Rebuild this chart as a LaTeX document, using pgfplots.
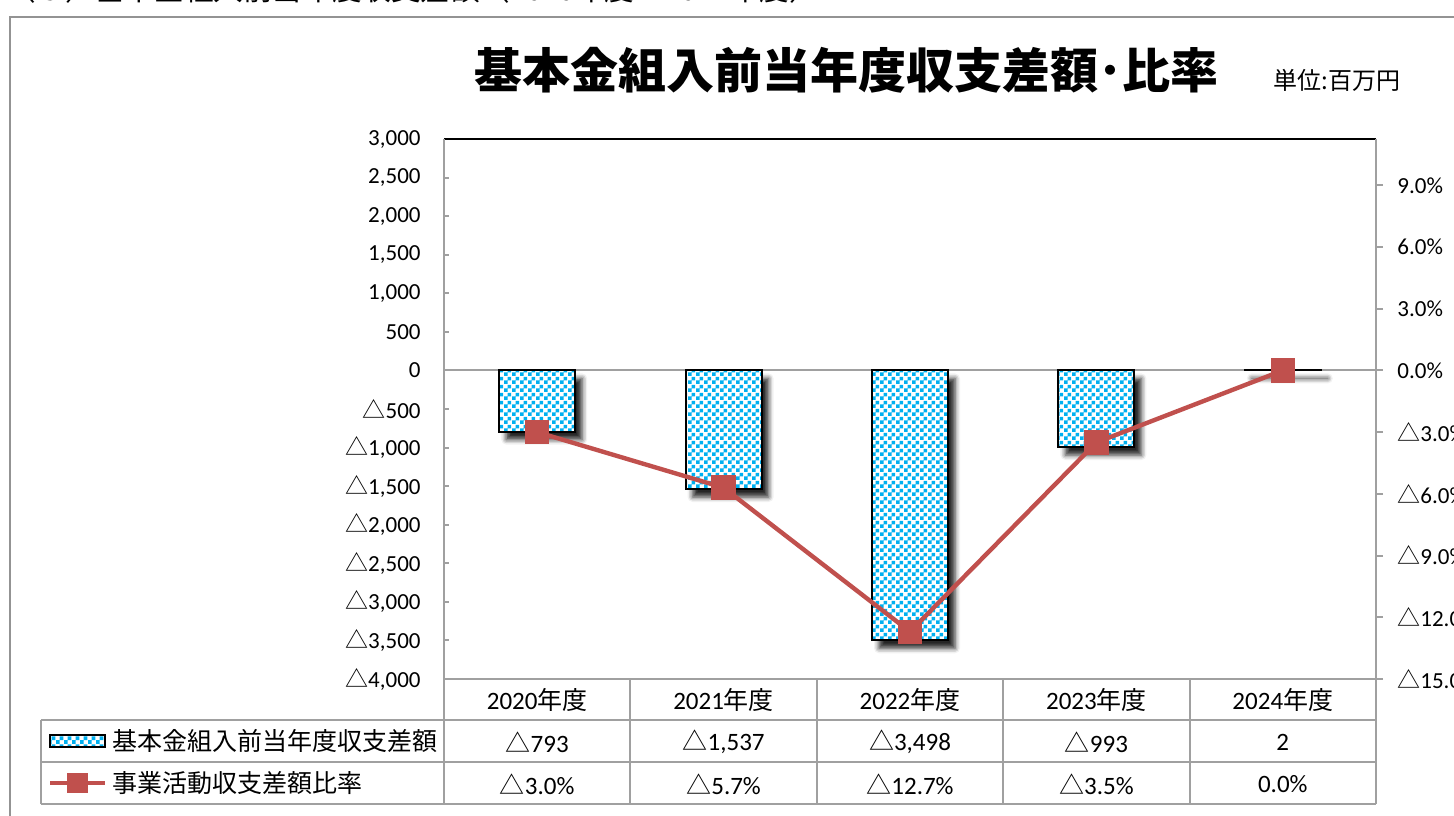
\documentclass[border=0pt]{standalone}
\usepackage{fontspec}
\setmainfont{Carlito}
\newfontfamily\cjk{Noto Sans CJK JP}
\usepackage{pgfplots}
\pgfplotsset{compat=1.18}
\usetikzlibrary{patterns,shadows,shadows.blur}
\definecolor{barblue}{HTML}{00B0F0}
\definecolor{lred}{HTML}{C0504D}
\definecolor{gline}{HTML}{A0A0A0}
\pgfdeclarepatternformonly{smallcheck}{\pgfqpoint{0pt}{0pt}}{\pgfqpoint{4pt}{4pt}}{\pgfqpoint{4pt}{4pt}}{%
  \pgfpathrectangle{\pgfqpoint{0pt}{0pt}}{\pgfqpoint{2.05pt}{2.05pt}}%
  \pgfpathrectangle{\pgfqpoint{2pt}{2pt}}{\pgfqpoint{2.05pt}{2.05pt}}%
  \pgfusepath{fill}}
\newcommand\tri{{\cjk △}}
\pgfplotsset{
  barlegend/.style={legend image code/.code={\draw[fill=white, draw=black, line width=1pt, postaction={pattern=smallcheck, pattern color=barblue}] (0pt,-3pt) rectangle (27.5pt,3pt);}},
  linelegend/.style={legend image code/.code={\draw[mark repeat=2,mark phase=2,##1, mark size=4pt] plot coordinates {(0pt,0pt) (13.75pt,0pt) (27.5pt,0pt)};}},
}
\begin{document}
\begin{tikzpicture}
\useasboundingbox (0,0) rectangle (727pt,-407.5pt);
\clip (0,0) rectangle (727pt,-407.5pt);
\begin{scope}[x=0.5pt,y=-0.5pt]
\node[anchor=base west, inner sep=0pt, font=\cjk\fontsize{14.8}{17}\selectfont] at (6,0.5) {（５）基本金組入前当年度収支差額（2020年度～2024年度）};
\draw[gray!85, line width=1pt] (10,17) rectangle (1490,840);
\node[font=\cjk\bfseries\fontsize{24}{28}\selectfont] at (846,70) {基本金組入前当年度収支差額･比率};
\node[font=\cjk\fontsize{12}{14}\selectfont] at (1337,80) {単位:百万円};
\end{scope}

\begin{axis}[
  at={(222pt,-339.5pt)}, anchor=south west,
  width=466pt, height=270pt, scale only axis,
  xmin=-0.5, xmax=4.5, ymin=-4000, ymax=3000,
  axis line style={-},
  axis y line*=left, axis x line*=top,
  x axis line style={black, line width=0.8pt},
  y axis line style={gline, line width=1pt},
  xtick=\empty,
  ytick={-4000,-3500,...,3000},
  yticklabels={{\tri4,000},{\tri3,500},{\tri3,000},{\tri2,500},{\tri2,000},{\tri1,500},{\tri1,000},{\tri500},{0},{500},{1,000},{1,500},{2,000},{2,500},{3,000}},
  tick align=inside, major tick length=2.5pt,
  ytick style={gline, line width=1pt},
  yticklabel style={font=\fontsize{11.5}{13}\selectfont, inner sep=0pt, xshift=-11.5pt},
  extra y ticks={0}, extra y tick labels={},
  extra y tick style={grid=major, major grid style={gline, line width=1pt}},
  ybar, bar width=38pt,
]
\addplot[fill=white, draw=black, line width=1pt,
  blur shadow={shadow xshift=3.5pt, shadow yshift=-4pt, shadow blur radius=2.5pt, shadow opacity=85},
  postaction={pattern=smallcheck, pattern color=barblue}]
  coordinates {(0,-793) (1,-1537) (2,-3498) (3,-993) (4,2)};
\end{axis}

\begin{axis}[
  at={(222pt,-339.5pt)}, anchor=south west,
  width=466pt, height=270pt, scale only axis,
  xmin=-0.5, xmax=4.5, ymin=-15, ymax=11.25,
  axis line style={-},
  axis y line*=right, axis x line=none,
  y axis line style={gline, line width=1pt},
  ytick={-15,-12,...,9},
  yticklabels={{\tri15.0\%},{\tri12.0\%},{\tri9.0\%},{\tri6.0\%},{\tri3.0\%},{0.0\%},{3.0\%},{6.0\%},{9.0\%}},
  tick align=outside, major tick length=3.5pt,
  ytick style={gline, line width=1pt},
  yticklabel style={font=\fontsize{11.5}{13}\selectfont, inner sep=0pt, xshift=7pt},
  legend cell align=left,
  legend style={at={(-0.4249,-0.1537)}, anchor=west, draw=none, fill=none,
    inner sep=0pt, outer sep=0pt, row sep=0pt,
    font=\cjk\fontsize{12.5}{14}\selectfont,
    nodes={inner sep=0pt, minimum height=21pt},
    /tikz/every odd column/.append style={column sep=2.5pt}},
]
\addlegendimage{barlegend}
\addlegendentry{基本金組入前当年度収支差額}
\addplot[lred, line width=2.2pt, mark=square*, mark size=5pt, mark options={solid, fill=lred}, linelegend]
  coordinates {(0,-3.0) (1,-5.7) (2,-12.7) (3,-3.5) (4,0.0)};
\addlegendentry{事業活動収支差額比率}
\end{axis}

\begin{scope}[x=0.5pt,y=-0.5pt]
\draw[gline, line width=1pt] (444,679) -- (1376,679);
\draw[gline, line width=1pt] (41,720) -- (1376,720);
\draw[gline, line width=1pt] (41,762) -- (1376,762);
\draw[gline, line width=1pt] (41,804) -- (1376,804);
\draw[gline, line width=1pt] (41,720) -- (41,804);
\foreach \xx in {444,630.4,816.8,1003.2,1189.6,1376} {\draw[gline, line width=1pt] (\xx,679) -- (\xx,804);}
\begin{scope}[every node/.style={font=\fontsize{12.5}{14}\selectfont}]
\node at (537.2,700) {2020{\cjk 年度}};
\node at (723.6,700) {2021{\cjk 年度}};
\node at (910.0,700) {2022{\cjk 年度}};
\node at (1096.4,700) {2023{\cjk 年度}};
\node at (1282.8,700) {2024{\cjk 年度}};
\node at (537.2,742) {\tri793};
\node at (723.6,742) {\tri1,537};
\node at (910.0,742) {\tri3,498};
\node at (1096.4,742) {\tri993};
\node at (1282.8,742) {2};
\node at (537.2,784) {\tri3.0\%};
\node at (723.6,784) {\tri5.7\%};
\node at (910.0,784) {\tri12.7\%};
\node at (1096.4,784) {\tri3.5\%};
\node at (1282.8,784) {0.0\%};
\end{scope}
\end{scope}
\end{tikzpicture}
\end{document}
